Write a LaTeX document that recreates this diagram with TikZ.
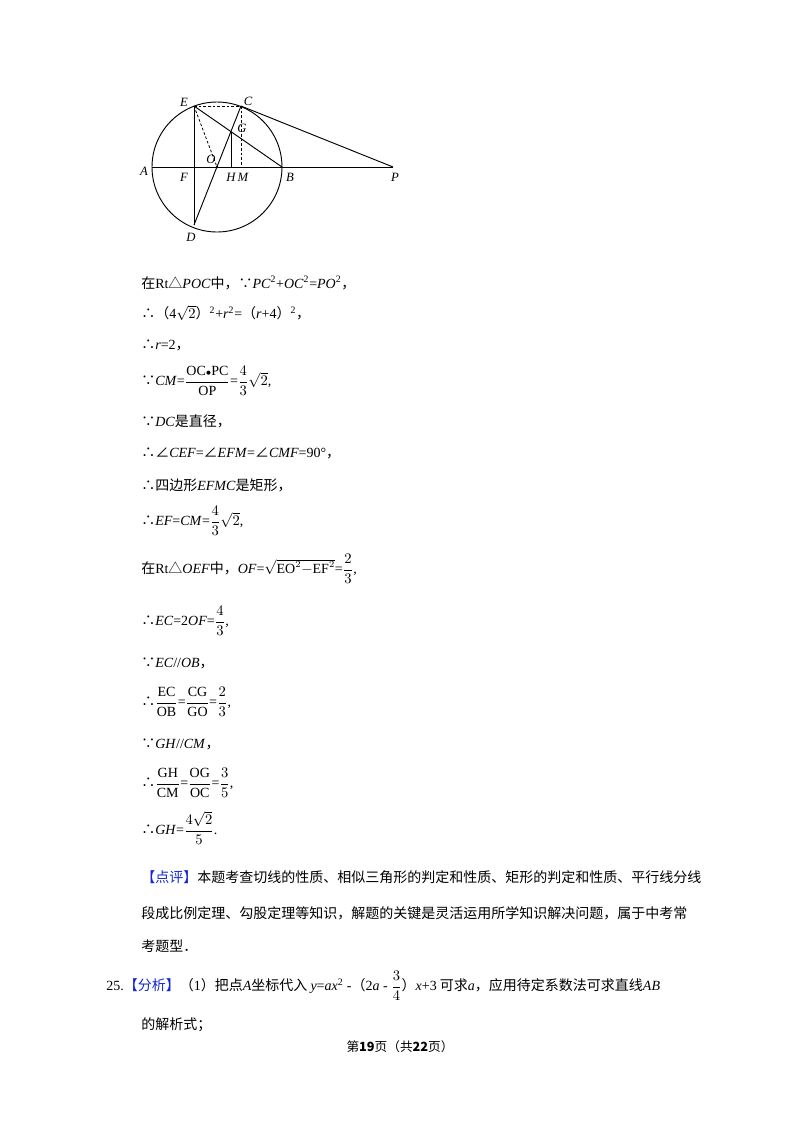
\documentclass[tikz,border=0pt]{standalone}
\usepackage{amsmath}
\usepackage{fontspec}
\setmainfont{Liberation Serif}
\newfontfamily\cjk{Noto Sans CJK SC}
\newcommand{\zh}[1]{{\cjk #1}}
\newcommand{\vi}[1]{\textit{#1}}
\definecolor{pblue}{RGB}{20,40,210}
\begin{document}
\begin{tikzpicture}[x=0.75pt,y=-0.75pt,
  ln/.style={line width=0.7pt},
  dl/.style={line width=0.6pt,dashed,dash pattern=on 2pt off 1.5pt},
  lab/.style={font=\fontsize{9.5}{10}\selectfont\itshape,inner sep=0pt},
  tx/.style={anchor=west,inner sep=0pt,font=\fontsize{10.5}{12}\selectfont}]
\useasboundingbox (0,0) rectangle (800,1132);
% figure
\coordinate (O) at (217,167);
\coordinate (A) at (152,167);
\coordinate (B) at (282,167);
\coordinate (P) at (393,167);
\coordinate (E) at (194,106);
\coordinate (C) at (241,106);
\coordinate (D) at (194,225);
\coordinate (F) at (194,167);
\coordinate (H) at (231.5,167);
\coordinate (M) at (241,167);
\coordinate (G) at (231.5,132);
\draw[ln] (O) circle[radius=65];
\draw[ln] (A) -- (P);
\draw[ln] (E) -- (D);
\draw[ln] (C) -- (D);
\draw[ln] (E) -- (B);
\draw[ln] (C) -- (P);
\draw[ln] (G) -- (H);
\draw[dl] (E) -- (C);
\draw[dl] (E) -- (O);
\draw[dl] (C) -- (M);
\fill (O) circle[radius=1.3];
\node[lab] (lE) at (184,102) {E};
\node[lab] (lC) at (248,101) {C};
\node[lab] (lG) at (242,128) {G};
\node[lab] (lO) at (211,159) {O};
\node[lab] (lA) at (144,171) {A};
\node[lab] (lF) at (184,177) {F};
\node[lab] (lH) at (231,177) {H};
\node[lab] (lM) at (243,177) {M};
\node[lab] (lB) at (290,177) {B};
\node[lab] (lP) at (395,177) {P};
\node[lab] (lD) at (191,237) {D};
% text
\node[tx] (t1) at (141,283) {\zh{在}Rt\zh{△}\vi{POC}\zh{中，∵}\vi{PC}\textsuperscript{2}+\vi{OC}\textsuperscript{2}=\vi{PO}\textsuperscript{2}\zh{，}};
\node[tx] (t2) at (141,313) {\zh{∴（}4$\sqrt{2}$\zh{）}\textsuperscript{2}+\vi{r}\textsuperscript{2}=\zh{（}\vi{r}+4\zh{）}\textsuperscript{2}\zh{，}};
\node[tx] (t3) at (141,345) {\zh{∴}\vi{r}=2\zh{，}};
\node[tx] (t4) at (141,381) {\zh{∵}\vi{CM}=$\dfrac{\mathrm{OC{\scriptstyle\bullet}PC}}{\mathrm{OP}}$=$\dfrac{4}{3}\sqrt{2}$,};
\node[tx] (t5) at (141,421) {\zh{∵}\vi{DC}\zh{是直径，}};
\node[tx] (t6) at (141,453) {\zh{∴∠}\vi{CEF}=\zh{∠}\vi{EFM}=\zh{∠}\vi{CMF}=90°\zh{，}};
\node[tx] (t7) at (141,485) {\zh{∴四边形}\vi{EFMC}\zh{是矩形，}};
\node[tx] (t8) at (141,521) {\zh{∴}\vi{EF}=\vi{CM}=$\dfrac{4}{3}\sqrt{2}$,};
\node[tx] (t9) at (141,569) {\zh{在}Rt\zh{△}\vi{OEF}\zh{中，}\vi{OF}=$\sqrt{\mathrm{EO}^2\mathrm{-EF}^2}$=$\dfrac{2}{3}$,};
\node[tx] (t10) at (141,621) {\zh{∴}\vi{EC}=2\vi{OF}=$\dfrac{4}{3}$,};
\node[tx] (t11) at (141,663) {\zh{∵}\vi{EC}//\vi{OB}\zh{，}};
\node[tx] (t12) at (141,702) {\zh{∴}$\dfrac{\mathrm{EC}}{\mathrm{OB}}$=$\dfrac{\mathrm{CG}}{\mathrm{GO}}$=$\dfrac{2}{3}$,};
\node[tx] (t13) at (141,744) {\zh{∵}\vi{GH}//\vi{CM}\zh{，}};
\node[tx] (t14) at (141,783) {\zh{∴}$\dfrac{\mathrm{GH}}{\mathrm{CM}}$=$\dfrac{\mathrm{OG}}{\mathrm{OC}}$=$\dfrac{3}{5}$,};
\node[tx] (t15) at (141,828) {\zh{∴}\vi{GH}=$\dfrac{4\sqrt{2}}{5}$.};
\node[tx] (t16) at (141,877) {\zh{\textcolor{pblue}{【点评】}本题考查切线的性质、相似三角形的判定和性质、矩形的判定和性质、平行线分线}};
\node[tx] (t17) at (141,913) {\zh{段成比例定理、勾股定理等知识，解题的关键是灵活运用所学知识解决问题，属于中考常}};
\node[tx] (t18) at (141,946) {\zh{考题型．}};
\node[tx] (t19) at (106,986) {25.\zh{\textcolor{pblue}{【分析】}（}1\zh{）把点}\vi{A}\zh{坐标代入 }\vi{y}=\vi{ax}\textsuperscript{2} -\zh{（}2\vi{a} - $\dfrac{3}{4}$\zh{）}\vi{x}+3\zh{ 可求}\vi{a}\zh{，应用待定系数法可求直线}\vi{AB}};
\node[tx] (t20) at (141,1025) {\zh{的解析式；}};
\node[inner sep=0pt,font=\fontsize{9.5}{11}\selectfont] (ft) at (400,1047) {\zh{第\textbf{19}页（共\textbf{22}页）}};
\end{tikzpicture}
\end{document}
